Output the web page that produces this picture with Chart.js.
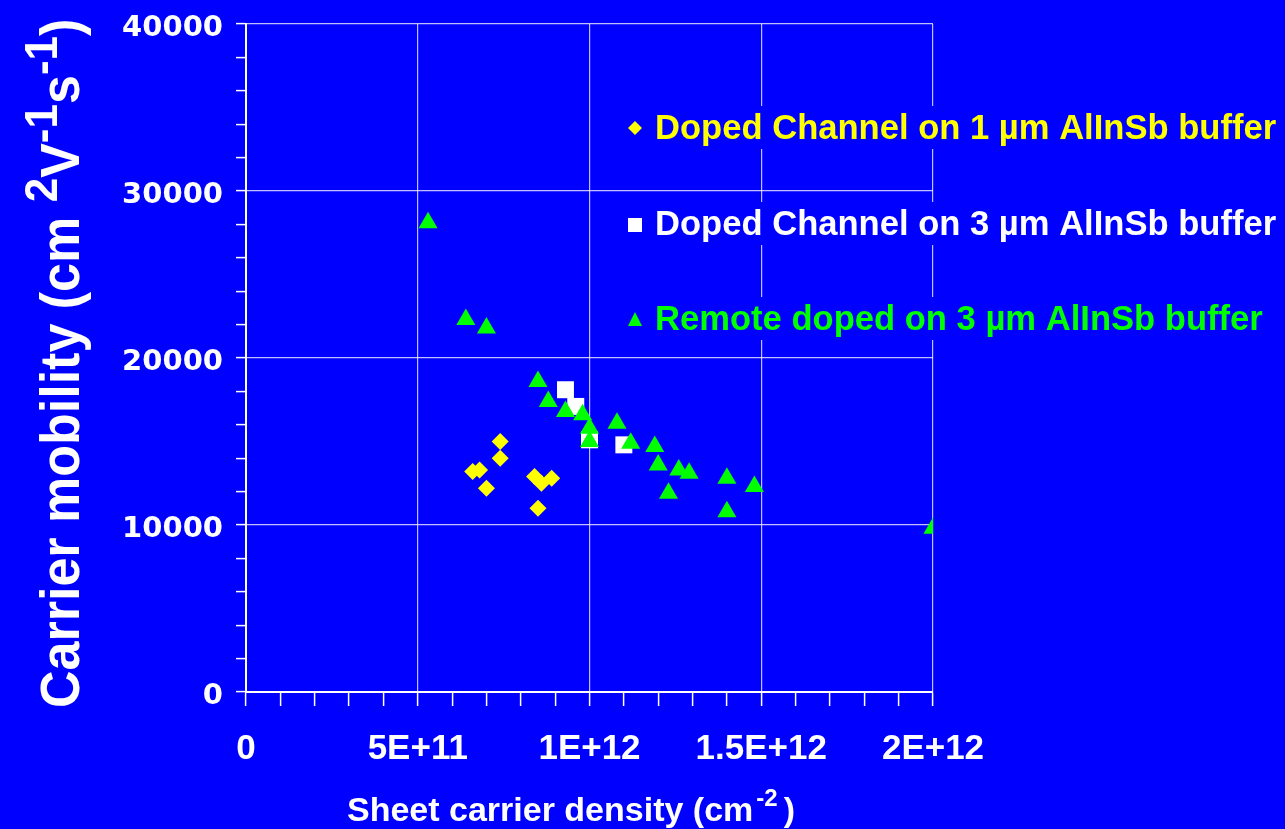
<!DOCTYPE html>
<html>
<head>
<meta charset="utf-8">
<script src="https://cdn.jsdelivr.net/npm/chart.js@4.4.1/dist/chart.umd.min.js"></script>
<style>
html, body { margin: 0; padding: 0; background: #0000ff; }
#wrap { width: 1285px; height: 829px; }
</style>
</head>
<body>
<div id="wrap"><canvas id="mobChart" width="1285" height="829"></canvas></div>
<script>
var ctx = document.getElementById('mobChart').getContext('2d');

// series names (legend)
var seriesNames = [
  'Doped Channel on 1 \u00b5m AlInSb buffer',
  'Doped Channel on 3 \u00b5m AlInSb buffer',
  'Remote doped on 3 \u00b5m AlInSb buffer'
];

// Doped channel, 1 um buffer (diamonds)
var dc1X = [6.6e11, 6.8e11, 7.0e11, 7.4e11, 7.4e11, 8.4e11, 8.6e11, 8.9e11, 8.5e11];
var dc1Y = [13200, 13300, 12200, 15000, 14000, 12900, 12500, 12800, 11000];

// Doped channel, 3 um buffer (squares)
var dc3X = [9.3e11, 9.6e11, 1.0e12, 1.1e12];
var dc3Y = [18100, 17100, 15100, 14800];

// Remote doped, 3 um buffer (triangles)
var rdX = [5.3e11, 6.4e11, 7.0e11, 8.5e11, 8.8e11, 9.3e11, 9.8e11, 1.0e12, 1.0e12, 1.08e12,
           1.12e12, 1.19e12, 1.2e12, 1.23e12, 1.26e12, 1.29e12, 1.4e12, 1.48e12, 1.4e12, 2.0e12];
var rdY = [28100, 22300, 21800, 18600, 17400, 16800, 16600, 15800, 15000, 16100,
           14900, 14700, 13600, 11900, 13300, 13100, 12800, 12300, 10800, 9800];

// tick labels
var xTickLabels = ['0', '5E+11', '1E+12', '1.5E+12', '2E+12'];
var yTickLabels = ['0', '10000', '20000', '30000', '40000'];

var colors = ['#ffff00', '#ffffff', '#00ff00'];
var gridColor = 'rgba(255,255,255,0.75)';

function toPoints(xs, ys) {
  return xs.map(function(x, i) { return { x: x, y: ys[i] }; });
}

// titles and legend drawn by hand (superscripts, legend over the plot)
var decorPlugin = {
  id: 'decor',
  afterDraw: function(chart) {
    var c = chart.ctx;
    c.save();
    c.fillStyle = '#ffffff';
    c.textBaseline = 'alphabetic';
    c.textAlign = 'left';

    // y title, rotated
    c.save();
    c.translate(79, 708);
    c.rotate(-Math.PI / 2);
    c.scale(1, 1.05);
    var parts = [
      ['Carrier mobility (cm ', 0], ['2', 1], ['V', 0], ['-1', 1], ['s', 0], ['-1', 1], [')', 0]
    ];
    var pos = 0;
    parts.forEach(function(p) {
      c.font = p[1] ? 'bold 44px "Liberation Sans", Arial, sans-serif' : 'bold 52px "Liberation Sans", Arial, sans-serif';
      c.fillText(p[0], pos, p[1] ? -21 : 0);
      pos += c.measureText(p[0]).width;
    });
    c.restore();

    // x title
    var xPos = 347;
    c.font = 'bold 34px "Liberation Sans", Arial, sans-serif';
    c.fillText('Sheet carrier density (cm', xPos, 821);
    xPos += c.measureText('Sheet carrier density (cm').width + 3;
    c.font = 'bold 24px "Liberation Sans", Arial, sans-serif';
    c.fillText('-2', xPos, 806);
    xPos += c.measureText('-2').width + 6;
    c.font = 'bold 34px "Liberation Sans", Arial, sans-serif';
    c.fillText(')', xPos, 821);

    // legend
    var baselines = [139, 235, 330];
    c.font = 'bold 34.6px "Liberation Sans", Arial, sans-serif';
    seriesNames.forEach(function(name, i) {
      var b = baselines[i];
      c.fillStyle = '#0000ff';
      c.fillRect(620, b - 33, 1285 - 620, 43);
      c.fillStyle = colors[i];
      var mx = 635, my = b - 11;
      c.beginPath();
      if (i === 0) {
        c.moveTo(mx, my - 7); c.lineTo(mx + 7, my); c.lineTo(mx, my + 7); c.lineTo(mx - 7, my);
      } else if (i === 1) {
        c.rect(mx - 7, my - 6, 14, 14);
      } else {
        c.moveTo(mx, my - 7); c.lineTo(mx + 7, my + 7); c.lineTo(mx - 7, my + 7);
      }
      c.closePath();
      c.fill();
      c.fillText(name, 655, b);
    });
    c.restore();
  }
};

var myChart = new Chart(ctx, {
  type: 'scatter',
  data: {
    datasets: [
      { label: seriesNames[0], data: toPoints(dc1X, dc1Y), pointStyle: 'rectRot', pointRadius: 8.5,
        backgroundColor: colors[0], borderColor: colors[0], borderWidth: 0, order: 2 },
      { label: seriesNames[1], data: toPoints(dc3X, dc3Y), pointStyle: 'rect', pointRadius: 12,
        backgroundColor: colors[1], borderColor: colors[1], borderWidth: 0, order: 1 },
      { label: seriesNames[2], data: toPoints(rdX, rdY), pointStyle: 'triangle', pointRadius: 11,
        backgroundColor: colors[2], borderColor: colors[2], borderWidth: 0, order: 0 }
    ]
  },
  options: {
    responsive: false,
    animation: false,
    layout: { padding: { top: 24, right: 352, left: 0, bottom: 0 } },
    plugins: { legend: { display: false }, tooltip: { enabled: false } },
    scales: {
      x: {
        type: 'linear', min: 0, max: 2e12,
        afterFit: function(scale) { scale.height = 137; scale.paddingLeft = 0; scale.paddingRight = 0; },
        border: { color: '#ffffff', width: 2 },
        grid: {
          color: function(c) {
            if (!c.tick) return 'rgba(0,0,0,0)';
            var k = Math.round(c.tick.value / 1e11);
            return (k % 5 === 0 && k > 0) ? gridColor : 'rgba(0,0,0,0)';
          },
          tickColor: '#ffffff', tickLength: 14, tickWidth: 1.5, lineWidth: 1.2
        },
        ticks: {
          stepSize: 1e11, autoSkip: false, maxRotation: 0, padding: 22,
          color: '#ffffff',
          font: { family: '"Liberation Sans", Arial, sans-serif', size: 35, weight: 'bold' },
          callback: function(v) {
            var k = Math.round(v / 1e11);
            return k % 5 === 0 ? xTickLabels[k / 5] : '';
          }
        }
      },
      y: {
        type: 'linear', min: 0, max: 40000,
        afterFit: function(scale) { scale.width = 246; scale.paddingTop = 0; scale.paddingBottom = 0; },
        border: { color: '#ffffff', width: 2 },
        grid: {
          color: function(c) {
            if (!c.tick) return 'rgba(0,0,0,0)';
            return (c.tick.value % 10000 === 0 && c.tick.value > 0) ? gridColor : 'rgba(0,0,0,0)';
          },
          tickColor: '#ffffff', tickLength: 10, tickWidth: 1.5, lineWidth: 1.2
        },
        ticks: {
          stepSize: 2000, autoSkip: false, padding: 13, labelOffset: 4,
          color: '#ffffff',
          font: { family: '"DejaVu Sans", Verdana, sans-serif', size: 29, weight: 'bold' },
          callback: function(v) {
            return v % 10000 === 0 ? yTickLabels[v / 10000] : '';
          }
        }
      }
    }
  },
  plugins: [decorPlugin]
});
</script>
</body>
</html>
